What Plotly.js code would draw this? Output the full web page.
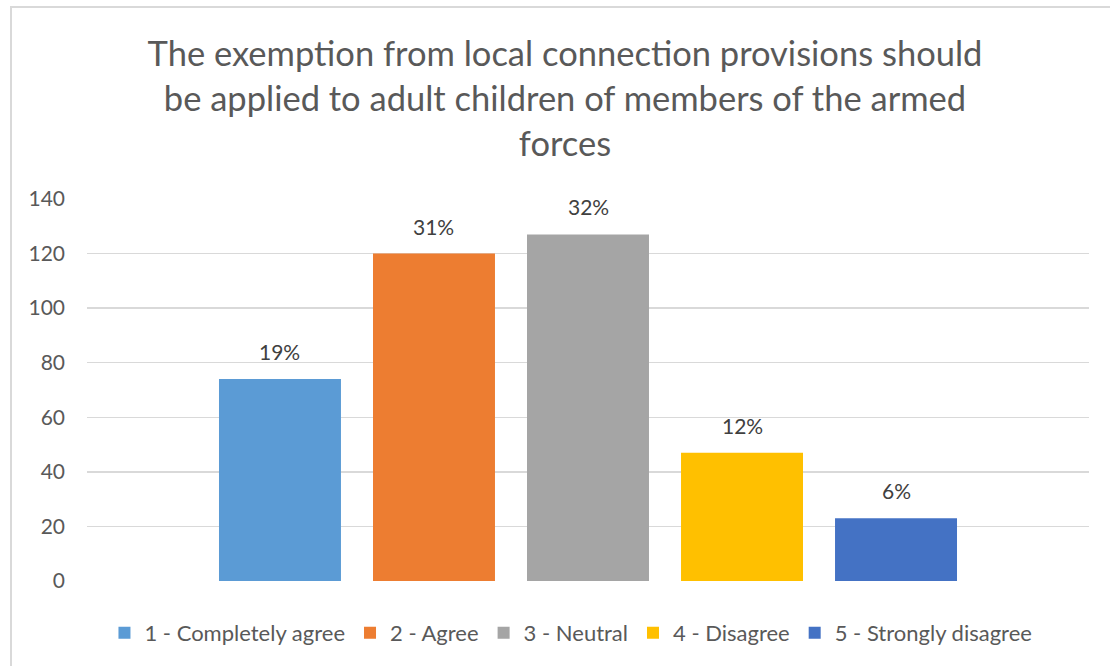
<!DOCTYPE html>
<html>
<head>
<meta charset="utf-8">
<script src="https://cdn.plot.ly/plotly-3.0.1.min.js"></script>
<style>
  html, body { margin: 0; padding: 0; background: #fff; }
  #wrap { position: relative; width: 1110px; height: 666px; overflow: hidden; }
  #chart { width: 1110px; height: 666px; }
  #frame { position: absolute; left: 10px; top: 6px; width: 1200px; height: 800px;
           border-left: 2px solid #d9d9d9; border-top: 2px solid #d9d9d9; pointer-events: none; }
</style>
</head>
<body>
<div id="wrap">
  <div id="chart"></div>
  <div id="frame"></div>
</div>
<script>
// Data
const categories = ["1 - Completely agree", "2 - Agree", "3 - Neutral", "4 - Disagree", "5 - Strongly disagree"];
const counts = [74, 120, 127, 47, 23];
const percentLabels = ["19%", "31%", "32%", "12%", "6%"];
const colors = ["#5B9BD5", "#ED7D31", "#A5A5A5", "#FFC000", "#4472C4"];
const titleLines = ["The exemption from local connection provisions should",
                    "be applied to adult children of members of the armed",
                    "forces"];
const yTicks = [0, 20, 40, 60, 80, 100, 120, 140];

const FONT = "Lato, 'Open Sans', sans-serif";

const traces = categories.map((name, i) => ({
  type: "bar",
  name: name,
  x: [i + 1],
  y: [counts[i]],
  width: 0.792,
  marker: { color: colors[i] },
  hoverinfo: "name+y"
}));

const annotations = categories.map((name, i) => ({
  x: i + 1,
  y: counts[i],
  xref: "x",
  yref: "y",
  text: percentLabels[i],
  showarrow: false,
  yanchor: "bottom",
  yshift: 13,
  font: { family: FONT, size: 21, color: "#404040" }
}));

const layout = {
  width: 1110,
  height: 666,
  autosize: false,
  paper_bgcolor: "#ffffff",
  plot_bgcolor: "#ffffff",
  margin: { l: 87, r: 21, t: 199, b: 85, autoexpand: false },
  font: { family: FONT, color: "#595959" },
  title: {
    text: titleLines.join("<br>"),
    font: { family: FONT, size: 34.5, color: "#595959" },
    x: 565 / 1110,
    xanchor: "center",
    xref: "container",
    y: 1 - 66 / 666,
    yanchor: "middle",
    yref: "container"
  },
  barmode: "overlay",
  xaxis: {
    range: [-0.253, 6.253],
    showticklabels: false,
    showgrid: false,
    zeroline: false,
    ticks: "",
    fixedrange: true
  },
  yaxis: {
    range: [0, 140],
    tickvals: yTicks,
    ticktext: yTicks.map(String),
    showgrid: true,
    gridcolor: "#d9d9d9",
    gridwidth: 1.5,
    zeroline: false,
    showline: false,
    ticks: "",
    ticklabelstandoff: 21,
    tickfont: { family: FONT, size: 21, color: "#595959" },
    fixedrange: true
  },
  showlegend: true,
  legend: {
    orientation: "h",
    x: 0.483,
    xanchor: "center",
    y: -52 / 382,
    yanchor: "middle",
    font: { family: FONT, size: 22, color: "#595959" },
    traceorder: "normal",
    itemclick: false,
    itemdoubleclick: false
  },
  annotations: annotations
};

Plotly.newPlot("chart", traces, layout, { displayModeBar: false, staticPlot: true });
</script>
</body>
</html>
